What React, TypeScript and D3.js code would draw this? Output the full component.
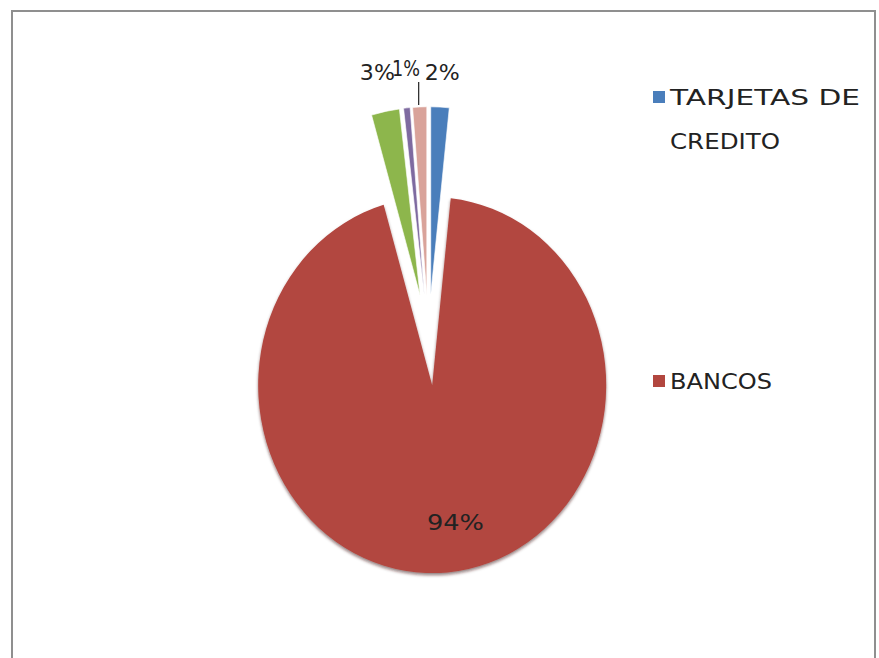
import React from "react";
import * as d3 from "d3";

// Data, clockwise from 12 o'clock
const categories = ["TARJETAS DE CREDITO", "BANCOS", "OTROS A", "OTROS B", "OTROS C"];
const values = [1.7, 93.8, 2.6, 0.6, 1.3];
const colors = ["#4A7EBB", "#B2463F", "#8DB64C", "#7E6AA0", "#D9A39A"];
const showLabel = [true, true, true, false, true];
const legendItems = [0, 1];

const W = 879;
const H = 658;
const CX = 428.5;
const CY = 340;
const R = 174;
const KY = 1.08;
const EXPLODE = 42;
const FONT = "'DejaVu Sans', 'Liberation Sans', sans-serif";

export default function App() {
  const total = d3.sum(values);
  const pie = d3.pie<number>().sort(null).value((d) => d)(values);
  const arc = d3.arc<d3.PieArcDatum<number>>().innerRadius(0).outerRadius(R);

  const slices = pie.map((p, i) => {
    const mid = (p.startAngle + p.endAngle) / 2;
    const ox = EXPLODE * Math.sin(mid);
    const oy = -EXPLODE * Math.cos(mid);
    return { p, i, mid, ox, oy, cx: CX + ox, cy: CY + oy * KY };
  });

  const pct = (v: number) => `${Math.round((v / total) * 100)}%`;

  return (
    <svg
      width={W}
      height={H}
      style={{ position: "absolute", left: 0, top: 0, background: "#fff" }}
    >
      <defs>
        <filter id="sh" x="-20%" y="-20%" width="140%" height="140%">
          <feDropShadow dx="0" dy="2" stdDeviation="1.6" floodColor="#3a0d0a" floodOpacity="0.55" />
        </filter>
      </defs>
      <rect x={12} y={11} width={863} height={700} fill="#fff" stroke="#8f8f8f" strokeWidth={2} />

      {slices.map((s) => (
        <g key={s.i} transform={`translate(${s.cx},${s.cy}) scale(1,${KY})`} filter={s.i === 1 ? "url(#sh)" : undefined}>
          <path
            d={arc(s.p) || ""}
            fill={colors[s.i]}
            stroke="#fff"
            strokeWidth={s.i === 1 ? 0 : 0.6}
          />
        </g>
      ))}

      {/* labels */}
      {slices.map((s) => {
        if (!showLabel[s.i]) return null;
        const txt = pct(values[s.i]);
        if (s.i === 1) {
          const x = s.cx + R * 0.8 * Math.sin(s.mid) + 11;
          const y = s.cy - R * KY * 0.74 * Math.cos(s.mid);
          return (
            <text key={"l" + s.i} x={x} y={y + 6} textAnchor="middle" fontFamily={FONT} fontSize={22} fill="#222"
              textLength={57} lengthAdjust="spacingAndGlyphs">
              {txt}
            </text>
          );
        }
        const isPink = s.i === 4;
        const x = s.cx + (R + 40) * Math.sin(s.mid) + (isPink ? -12 : 0);
        const y = isPink ? 76 : 80;
        const tipX = s.cx + R * Math.sin(s.mid);
        const tipY = s.cy - R * KY * Math.cos(s.mid);
        return (
          <g key={"l" + s.i}>
            {isPink && <line x1={tipX - 1} y1={tipY - 2} x2={tipX - 1} y2={82} stroke="#222" strokeWidth={1.2} />}
            <text x={x} y={y} textAnchor="middle" fontFamily={FONT} fontSize={22} fill="#222"
              textLength={isPink ? 28 : 35} lengthAdjust="spacingAndGlyphs">
              {txt}
            </text>
          </g>
        );
      })}

      {/* legend */}
      {legendItems.map((ci, k) => {
        const y0 = k === 0 ? 91 : 375;
        return (
          <g key={"lg" + ci}>
            <rect x={653} y={y0} width={12} height={12} fill={colors[ci]} />
            {ci === 0 ? (
              <>
                <text x={670} y={y0 + 14} fontFamily={FONT} fontSize={21} fill="#222" textLength={190} lengthAdjust="spacingAndGlyphs">TARJETAS DE</text>
                <text x={670} y={y0 + 58} fontFamily={FONT} fontSize={21} fill="#222" textLength={110} lengthAdjust="spacingAndGlyphs">CREDITO</text>
              </>
            ) : (
              <text x={670} y={y0 + 14} fontFamily={FONT} fontSize={21} fill="#222" textLength={102} lengthAdjust="spacingAndGlyphs">
                {categories[ci]}
              </text>
            )}
          </g>
        );
      })}
    </svg>
  );
}
